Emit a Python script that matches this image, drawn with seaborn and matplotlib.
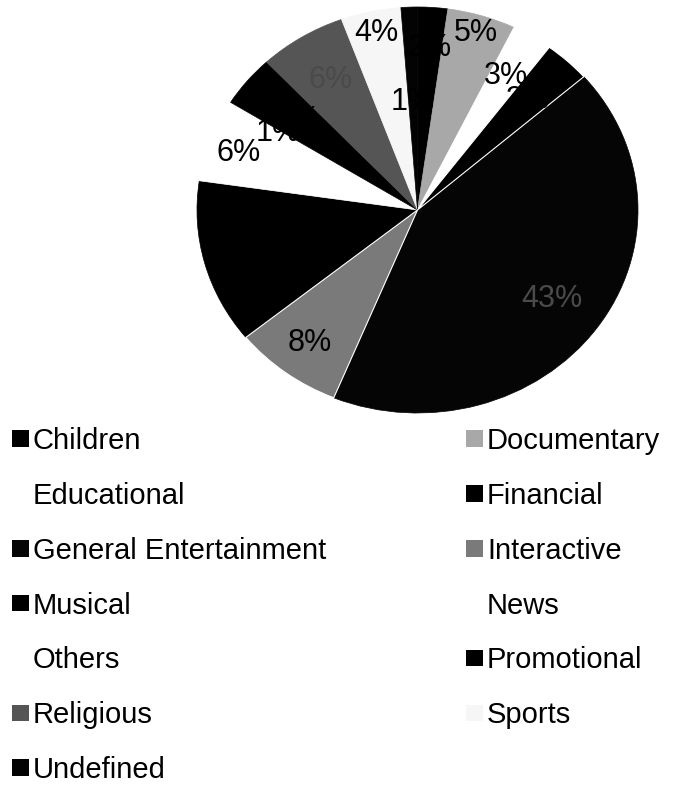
import matplotlib
matplotlib.use("Agg")
import matplotlib.pyplot as plt
from matplotlib.patches import Patch
import numpy as np
import seaborn as sns

# Programme genres and their share of airtime (percent)
categories = ["Children", "Documentary", "Educational", "Financial",
              "General Entertainment", "Interactive", "Musical", "News",
              "Others", "Promotional", "Religious", "Sports", "Undefined"]
shares = [2.2, 5.0, 3.0, 3.4, 42.6, 8.0, 13.1, 6.0, 0.6, 4.1, 6.4, 4.4, 1.2]

# Greyscale fills, one per genre
slice_colors = ["#000000", "#a8a8a8", "#ffffff", "#000000", "#050505", "#7a7a7a",
                "#000000", "#ffffff", "#ffffff", "#000000", "#555555", "#f6f6f6",
                "#030303"]
# Radial position of each percentage label (fraction of the radius)
label_radius = [0.80, 0.91, 0.77, 0.74, 0.75, 0.82, 0.70, 0.86, 0.74, 0.70,
                0.75, 0.89, 0.53]
label_colors = ["black"] * len(categories)
label_colors[4] = "#4a4a4a"
label_colors[10] = "#4a4a4a"

sns.set_theme(style="white")
plt.rcParams["font.family"] = ["Liberation Sans", "DejaVu Sans"]
plt.rcParams["text.color"] = "black"
palette = sns.color_palette(slice_colors)

W, H = 681, 786
fig = plt.figure(figsize=(W / 100, H / 100), dpi=100)
fig.patch.set_facecolor("white")

ax = fig.add_axes([197 / W, 1 - 413 / H, 441 / W, 406 / H])
wedges, _ = ax.pie(shares, colors=palette, startangle=90, counterclock=False)
# outline each slice in its own fill so adjacent slices join without seams
for w in wedges:
    w.set_edgecolor(w.get_facecolor())
    w.set_linewidth(0.5)
# thin white seams where neighbouring dark slices meet
for i in (3, 5):
    wedges[i].set_edgecolor("white")
    wedges[i].set_linewidth(0.8)
    wedges[i].set_zorder(wedges[i].get_zorder() + 0.5)
ax.set_aspect("auto")
ax.set_xlim(-1, 1)
ax.set_ylim(-1, 1)
ax.axis("off")

total = sum(shares)
for w, v, r, c in zip(wedges, shares, label_radius, label_colors):
    mid = np.deg2rad((w.theta1 + w.theta2) / 2)
    ax.text(r * np.cos(mid), r * np.sin(mid), f"{v / total * 100:.0f}%",
            ha="center", va="center", fontsize=22, color=c, zorder=5)

# Legend laid out row by row in two columns
handles = [Patch(facecolor=col, edgecolor="none") for col in palette]
leg_kw = dict(loc="upper left", frameon=False, fontsize=21,
              handlelength=0.58, handleheight=0.5, handletextpad=0.14,
              labelspacing=0.92, borderpad=0, borderaxespad=0,
              labelcolor="black")
left = fig.legend(handles[0::2], categories[0::2],
                  bbox_to_anchor=(12 / W, 1 - 427 / H), **leg_kw)
right = fig.legend(handles[1::2], categories[1::2],
                   bbox_to_anchor=(466 / W, 1 - 427 / H), **leg_kw)

fig.savefig("out.png", dpi=100, facecolor="white")
